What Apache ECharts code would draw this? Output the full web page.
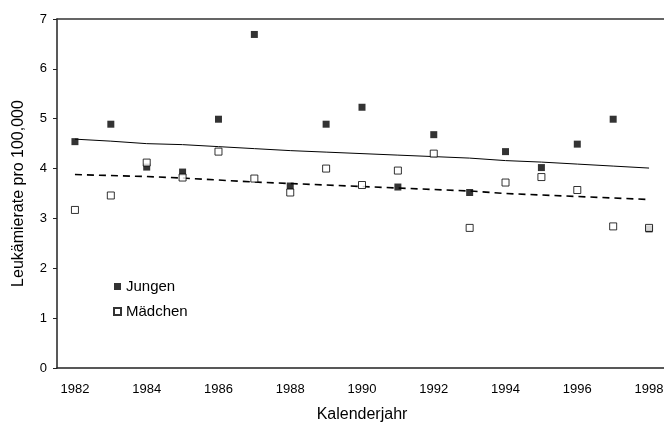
<!DOCTYPE html>
<html>
<head>
<meta charset="utf-8">
<script src="https://cdn.jsdelivr.net/npm/echarts@6/dist/echarts.min.js"></script>
<style>
html,body{margin:0;padding:0;background:#fff;}
#main{width:664px;height:424px;}
</style>
</head>
<body>
<div id="main"></div>
<script>
const years = ['1982','1983','1984','1985','1986','1987','1988','1989','1990','1991','1992','1993','1994','1995','1996','1997','1998'];
const jungen = [4.54,4.89,4.03,3.93,4.99,6.69,3.65,4.89,5.23,3.63,4.68,3.52,4.34,4.02,4.49,4.99,2.79];
const maedchen = [3.17,3.46,4.12,3.82,4.34,3.80,3.52,4.00,3.67,3.96,4.30,2.81,3.72,3.83,3.57,2.84,2.81];
// Trendlinien
const trendJungen = [4.59,4.55,4.50,4.48,4.44,4.40,4.36,4.33,4.30,4.27,4.24,4.21,4.16,4.13,4.09,4.05,4.01];
const trendMaedchen = [3.88,3.86,3.84,3.81,3.77,3.73,3.70,3.67,3.64,3.61,3.58,3.55,3.50,3.47,3.44,3.41,3.38];

const font = 'Liberation Sans, Arial, sans-serif';
const myChart = echarts.init(document.getElementById('main'));

myChart.setOption({
    animation:false,
    textStyle:{fontFamily:font,color:'#000'},
    grid:{left:57,right:-3,top:19,bottom:56,containLabel:false,outerBoundsMode:'none'},
    legend:{
        data:['Jungen','Mädchen'],
        orient:'vertical',
        left:108,
        top:274,
        itemWidth:7,
        itemHeight:7,
        itemGap:10,
        icon:'rect',
        textStyle:{fontSize:15,color:'#000',fontFamily:font}
    },
    xAxis:[{
        type:'category',
        data:years,
        boundaryGap:true,
        name:'Kalenderjahr',
        nameLocation:'middle',
        nameGap:39,
        nameTextStyle:{fontSize:16,color:'#000',fontFamily:font},
        axisLine:{lineStyle:{color:'#222',width:1.5}},
        axisTick:{interval:0,length:4,lineStyle:{color:'#222'}},
        axisLabel:{interval:1,fontSize:13,color:'#000',margin:15,fontFamily:font},
        splitLine:{show:false}
    },{
        type:'category',
        data:years,
        position:'top',
        axisLine:{lineStyle:{color:'#333',width:1.5}},
        axisTick:{show:false},
        axisLabel:{show:false},
        splitLine:{show:false}
    }],
    yAxis:{
        type:'value',
        min:0,
        max:7,
        interval:1,
        name:'Leukämierate pro 100,000',
        nameLocation:'middle',
        nameGap:30,
        nameTextStyle:{fontSize:16,color:'#000',fontFamily:font},
        axisLine:{show:true,lineStyle:{color:'#222',width:1.5}},
        axisTick:{show:true,length:4,lineStyle:{color:'#222'}},
        axisLabel:{fontSize:13,color:'#000',margin:10,fontFamily:font},
        splitLine:{show:false}
    },
    series:[
        {
            name:'Trend Jungen',
            type:'line',
            data:trendJungen,
            showSymbol:false,
            lineStyle:{color:'#000',width:1},
            z:1
        },
        {
            name:'Trend Mädchen',
            type:'line',
            data:trendMaedchen,
            showSymbol:false,
            lineStyle:{color:'#000',width:1.6,type:[7,5]},
            z:1
        },
        {
            name:'Jungen',
            type:'scatter',
            data:jungen,
            symbol:'rect',
            symbolSize:7,
            itemStyle:{color:'#000'},
            z:3
        },
        {
            name:'Mädchen',
            type:'scatter',
            data:maedchen,
            symbol:'rect',
            symbolSize:7,
            itemStyle:{color:'#fff',borderColor:'#000',borderWidth:1},
            z:4
        }
    ]
});
</script>
</body>
</html>
